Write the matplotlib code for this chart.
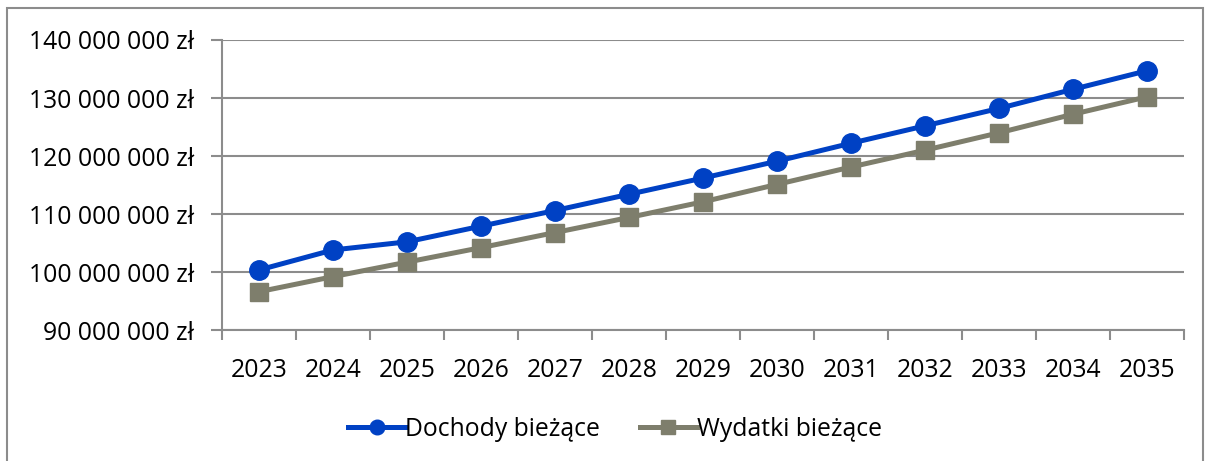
import matplotlib
matplotlib.use("Agg")
import matplotlib.pyplot as plt
from matplotlib.ticker import FixedLocator, FuncFormatter
from matplotlib.patches import Rectangle

years = ["2023", "2024", "2025", "2026", "2027", "2028", "2029",
         "2030", "2031", "2032", "2033", "2034", "2035"]
dochody = [100.35, 103.8, 105.2, 107.9, 110.6, 113.4, 116.2,
           119.1, 122.2, 125.2, 128.2, 131.5, 134.7]  # mln zł
wydatki = [96.6, 99.2, 101.7, 104.2, 106.8, 109.4, 112.1,
           115.1, 118.1, 121.0, 124.0, 127.2, 130.2]  # mln zł
y_ticks = [90, 100, 110, 120, 130, 140]
series_names = ["Dochody bieżące", "Wydatki bieżące"]

plt.rcParams['font.family'] = ['Open Sans', 'DejaVu Sans']

W, H = 1206, 461
FS = 17.8
fig = plt.figure(figsize=(W / 100, H / 100), dpi=100)
ax = fig.add_axes([222 / W, 1 - 330 / H, (1184 - 222) / W, (330 - 40) / H])

# outer frame
fig.patches.append(Rectangle((7 / W, -0.05), (1203 - 7) / W, 1 - 8 / H + 0.05,
                             transform=fig.transFigure, fill=False,
                             edgecolor="#8c8c8c", linewidth=1.5))

x = list(range(len(years)))
grid_c = "#8c8c8c"
ax.plot(x, [v * 1e6 for v in dochody], color="#0041C4", lw=3.6, marker="o",
        markersize=14, label=series_names[0], zorder=3)
ax.plot(x, [v * 1e6 for v in wydatki], color="#7E7E6C", lw=3.6, marker="s",
        markersize=13, label=series_names[1], zorder=3)

ax.set_xlim(-0.5, len(years) - 0.5)
ax.set_ylim(90e6, 140e6)
ax.yaxis.set_major_locator(FixedLocator([v * 1e6 for v in y_ticks]))


def fmt(v, pos):
    s = f"{int(round(v)):,}".replace(",", " ")
    return s + " zł"


ax.yaxis.set_major_formatter(FuncFormatter(fmt))
ax.set_xticks(x)
ax.set_xticklabels(years)
ax.set_xticks([i - 0.5 for i in range(len(years) + 1)], minor=True)
ax.tick_params(axis="x", which="major", length=0, pad=20, labelsize=FS)
ax.tick_params(axis="x", which="minor", length=7, width=1.5, color=grid_c)
ax.tick_params(axis="y", length=8, width=1.5, color=grid_c, pad=12, labelsize=FS)

ax.grid(axis="y", color=grid_c, linewidth=1.5)
ax.set_axisbelow(True)
for s in ["top", "right"]:
    ax.spines[s].set_visible(False)
for s in ["left", "bottom"]:
    ax.spines[s].set_color(grid_c)
    ax.spines[s].set_linewidth(1.5)

leg = fig.legend(loc="center", bbox_to_anchor=(615 / W, 1 - 429 / H), ncol=2,
                 frameon=False, fontsize=FS, handlelength=2.3,
                 handletextpad=0.0, columnspacing=1.6, markerscale=0.75)

fig.savefig("out.png", dpi=100)
